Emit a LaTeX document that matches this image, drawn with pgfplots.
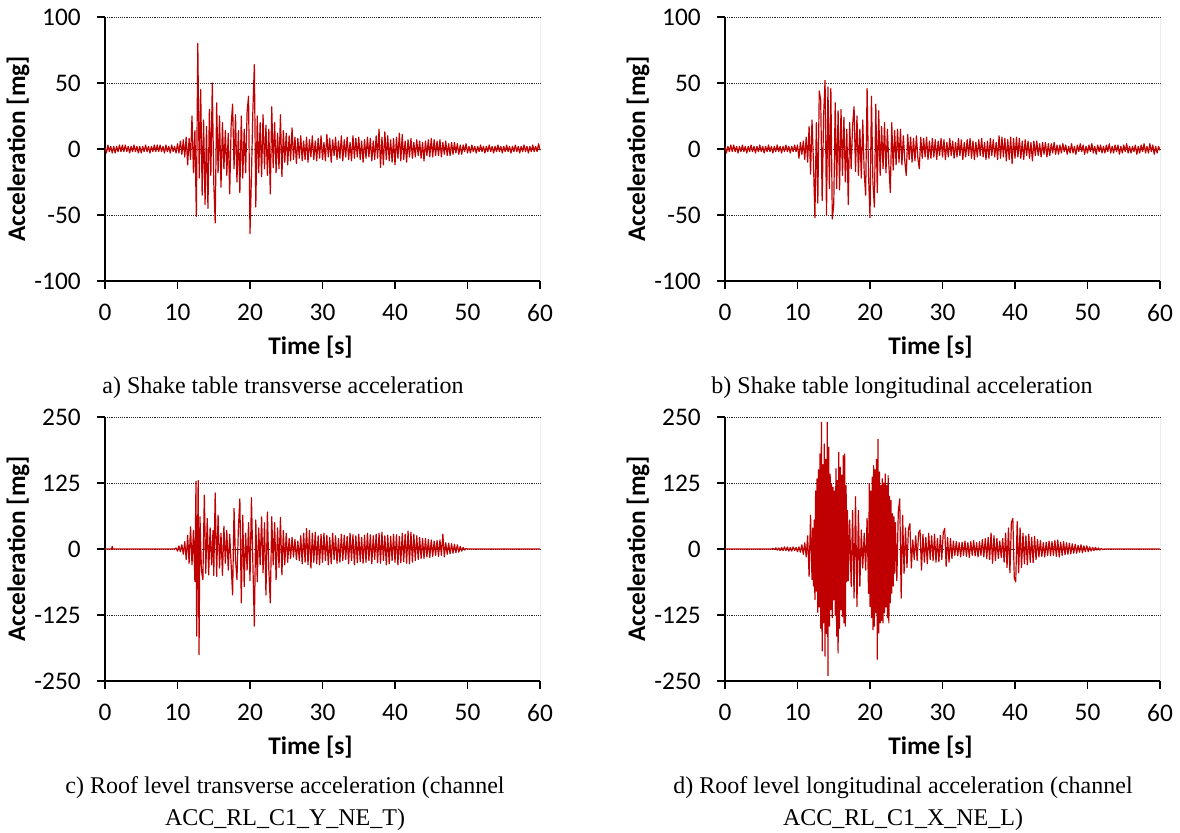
\documentclass[border=0pt]{standalone}
\usepackage{fontspec}
\setmainfont{Liberation Serif}
\newfontfamily\calibri{Carlito}
\usepackage{pgfplots}
\pgfplotsset{compat=1.18}
\definecolor{sig}{RGB}{192,0,0}

\pgfplotsset{
  accax/.style={
    scale only axis, width=326.25pt, height=198pt, anchor=south west,
    xmin=0, xmax=60, xtick={0,10,...,60},
    axis x line*=bottom, axis y line*=left,
    axis line style={-, black, line width=0.9pt},
    tick style={black, line width=0.9pt},
    tick align=outside, major tick length=6pt,
    ymajorgrids, grid style={densely dotted, black!85, line width=0.5pt},
    /pgf/number format/assume math mode=true,
    ticklabel style={font=\calibri\fontsize{19}{19}\selectfont},
    xticklabel style={anchor=north, inner sep=0pt, yshift=-11pt},
    yticklabel style={anchor=east, inner sep=0pt, xshift=-12pt},
    xlabel={Time [s]}, ylabel={Acceleration [mg]},
    every axis x label/.style={at={(rel axis cs:0.5,0)}, anchor=center,
      yshift=-49.5pt, xshift=-9pt, font=\calibri\bfseries\fontsize{19}{19}\selectfont},
    every axis y label/.style={at={(rel axis cs:0,0.5)}, rotate=90, anchor=center,
      yshift=65.25pt, font=\calibri\bfseries\fontsize{19}{19}\selectfont},
  },
  sigline/.style={sig, line width=0.9pt, line join=round},
}

\begin{document}
\begin{tikzpicture}
\useasboundingbox (0,0) rectangle (885pt,-624pt);

% a) shake table transverse
\begin{axis}[accax, at={(78.75pt,-210.75pt)}, ymin=-100, ymax=100, ytick={-100,-50,0,50,100}]
\draw[black!55, line width=0.6pt] (rel axis cs:1,0) -- (rel axis cs:1,1);
\addplot[sigline] coordinates {
(0,1)(0.2,-3)(0.4,3)(0.6,-2)(0.8,2)
(1,-3)(1.2,2)(1.4,-3)(1.6,2)(1.8,-2)
(2,3)(2.2,-2)(2.4,3)(2.6,-2)(2.8,3)
(3,-2)(3.2,2)(3.4,-3)(3.6,2)(3.8,-2)
(4,3)(4.2,-2)(4.4,2)(4.6,-3)(4.8,2)
(5,-3)(5.2,2)(5.4,-2)(5.6,3)(5.8,-2)
(6,2)(6.2,-3)(6.4,2)(6.6,-2)(6.8,3)
(7,-2)(7.2,3)(7.4,-2)(7.6,3)(7.8,-2)
(8,2)(8.2,-3)(8.4,3)(8.6,-2)(8.8,2)
(9,-3)(9.2,3)(9.4,-2)(9.6,2)(9.8,-3)
(10,4)(10.2,-3)(10.4,6)(10.6,-4)(10.8,7)
(11,-6)(11.2,9)(11.4,-12)(11.6,8)(11.8,-8)
(12,25)(12.2,-18)(12.4,14)(12.6,-51)(12.8,80)
(13,-22)(13.2,45)(13.4,-35)(13.6,22)(13.8,-42)
(14,17)(14.2,-45)(14.4,30)(14.6,-20)(14.8,50)
(15,-25)(15.2,-56)(15.4,35)(15.6,-18)(15.8,25)
(16,-29)(16.2,20)(16.4,-15)(16.6,14)(16.8,-20)
(17,12)(17.2,-34)(17.4,18)(17.6,34)(17.8,-15)
(18,26)(18.2,-25)(18.4,14)(18.6,-33)(18.8,25)
(19,-22)(19.2,15)(19.4,-18)(19.6,28)(19.8,40)
(20,-64)(20.2,-20)(20.4,30)(20.6,64)(20.8,-44)
(21,25)(21.2,-18)(21.4,20)(21.6,-21)(21.8,26)
(22,-15)(22.2,18)(22.4,-20)(22.6,15)(22.8,-34)
(23,32)(23.2,-14)(23.4,20)(23.6,-18)(23.8,12)
(24,-15)(24.2,26)(24.4,-21)(24.6,14)(24.8,-10)
(25,12)(25.2,-12)(25.4,10)(25.6,-9)(25.8,16)
(26,-8)(26.2,9)(26.4,-11)(26.6,8)(26.8,-7)
(27,10)(27.2,-9)(27.4,6)(27.6,-8)(27.8,9)
(28,-10)(28.2,7)(28.4,-6)(28.6,10)(28.8,-8)
(29,6)(29.2,-9)(29.4,8)(29.6,-7)(29.8,10)
(30,-8)(30.2,5)(30.4,-9)(30.6,11)(30.8,-6)
(31,8)(31.2,-10)(31.4,7)(31.6,-5)(31.8,9)
(32,-8)(32.2,6)(32.4,-7)(32.6,10)(32.8,-9)
(33,7)(33.2,-6)(33.4,9)(33.6,-8)(33.8,5)
(34,-9)(34.2,10)(34.4,-7)(34.6,8)(34.8,-6)
(35,9)(35.2,-8)(35.4,6)(35.6,-10)(35.8,7)
(36,-7)(36.2,9)(36.4,-6)(36.6,8)(36.8,-9)
(37,6)(37.2,-8)(37.4,10)(37.6,-7)(37.8,15)
(38,-14)(38.2,9)(38.4,-12)(38.6,13)(38.8,-8)
(39,10)(39.2,-9)(39.4,7)(39.6,-10)(39.8,8)
(40,-12)(40.2,9)(40.4,-7)(40.6,12)(40.8,-9)
(41,11)(41.2,-8)(41.4,6)(41.6,-10)(41.8,7)
(42,-6)(42.2,8)(42.4,-7)(42.6,5)(42.8,-6)
(43,7)(43.2,-5)(43.4,6)(43.6,-7)(43.8,5)
(44,-9)(44.2,6)(44.4,-5)(44.6,7)(44.8,-6)
(45,8)(45.2,-6)(45.4,7)(45.6,-5)(45.8,6)
(46,-5)(46.2,7)(46.4,-6)(46.6,5)(46.8,-4)
(47,6)(47.2,-5)(47.4,4)(47.6,-5)(47.8,5)
(48,-4)(48.2,5)(48.4,-3)(48.6,4)(48.8,-4)
(49,3)(49.2,-4)(49.4,3)(49.6,-2)(49.8,4)
(50,-3)(50.2,2)(50.4,-3)(50.6,3)(50.8,-2)
(51,2)(51.2,-3)(51.4,2)(51.6,-2)(51.8,3)
(52,-2)(52.2,2)(52.4,-3)(52.6,2)(52.8,-2)
(53,3)(53.2,-2)(53.4,2)(53.6,-3)(53.8,2)
(54,-2)(54.2,3)(54.4,-2)(54.6,2)(54.8,-3)
(55,2)(55.2,-2)(55.4,3)(55.6,-2)(55.8,2)
(56,-3)(56.2,2)(56.4,-2)(56.6,3)(56.8,-2)
(57,2)(57.2,-3)(57.4,2)(57.6,-2)(57.8,3)
(58,-2)(58.2,2)(58.4,-3)(58.6,2)(58.8,-2)
(59,3)(59.2,-2)(59.4,2)(59.6,-2)(59.8,4)
(60,-1)
};
\end{axis}

% b) shake table longitudinal
\begin{axis}[accax, at={(543.75pt,-210.75pt)}, ymin=-100, ymax=100, ytick={-100,-50,0,50,100}]
\draw[black!55, line width=0.6pt] (rel axis cs:1,0) -- (rel axis cs:1,1);
\addplot[sigline] coordinates {
(0,2)(0.2,-3)(0.4,2)(0.6,-2)(0.8,3)
(1,-2)(1.2,3)(1.4,-2)(1.6,2)(1.8,-3)
(2,2)(2.2,-2)(2.4,3)(2.6,-2)(2.8,2)
(3,-3)(3.2,2)(3.4,-2)(3.6,3)(3.8,-2)
(4,2)(4.2,-3)(4.4,2)(4.6,-2)(4.8,3)
(5,-2)(5.2,2)(5.4,-3)(5.6,2)(5.8,-2)
(6,3)(6.2,-2)(6.4,2)(6.6,-3)(6.8,2)
(7,-2)(7.2,3)(7.4,-2)(7.6,2)(7.8,-3)
(8,2)(8.2,-2)(8.4,3)(8.6,-2)(8.8,2)
(9,-3)(9.2,2)(9.4,-2)(9.6,3)(9.8,-2)
(10,3)(10.2,-7)(10.4,5)(10.6,-4)(10.8,6)
(11,-8)(11.2,9)(11.4,-10)(11.6,17)(11.8,-19)
(12,22)(12.2,-10)(12.4,-52)(12.6,20)(12.8,-41)
(13,44)(13.2,37)(13.4,-39)(13.6,25)(13.8,52)
(14,-50)(14.2,47)(14.4,-30)(14.6,46)(14.8,-53)
(15,-42)(15.2,35)(15.4,-30)(15.6,29)(15.8,-31)
(16,30)(16.2,-20)(16.4,24)(16.6,-25)(16.8,15)
(17,-42)(17.2,20)(17.4,-15)(17.6,18)(17.8,32)
(18,-17)(18.2,25)(18.4,-20)(18.6,15)(18.8,-22)
(19,22)(19.2,-18)(19.4,-35)(19.6,46)(19.8,-20)
(20,-52)(20.2,40)(20.4,-25)(20.6,-44)(20.8,34)
(21,-33)(21.2,29)(21.4,-20)(21.6,17)(21.8,-15)
(22,20)(22.2,-18)(22.4,15)(22.6,-12)(22.8,-33)
(23,20)(23.2,-16)(23.4,14)(23.6,-12)(23.8,15)
(24,-10)(24.2,15)(24.4,-12)(24.6,10)(24.8,-9)
(25,-20)(25.2,11)(25.4,-8)(25.6,9)(25.8,-10)
(26,8)(26.2,-9)(26.4,10)(26.6,-7)(26.8,-15)
(27,9)(27.2,-7)(27.4,8)(27.6,-6)(27.8,9)
(28,-8)(28.2,6)(28.4,-7)(28.6,8)(28.8,-6)
(29,7)(29.2,-8)(29.4,6)(29.6,-5)(29.8,8)
(30,-6)(30.2,7)(30.4,-8)(30.6,5)(30.8,-6)
(31,8)(31.2,-5)(31.4,6)(31.6,-7)(31.8,5)
(32,-6)(32.2,8)(32.4,-5)(32.6,7)(32.8,-8)
(33,5)(33.2,-6)(33.4,7)(33.6,-5)(33.8,8)
(34,-7)(34.2,6)(34.4,-8)(34.6,5)(34.8,-6)
(35,7)(35.2,-5)(35.4,8)(35.6,-6)(35.8,5)
(36,-8)(36.2,6)(36.4,-7)(36.6,8)(36.8,-5)
(37,7)(37.2,-6)(37.4,5)(37.6,-8)(37.8,10)
(38,-7)(38.2,9)(38.4,-6)(38.6,8)(38.8,-9)
(39,7)(39.2,-8)(39.4,9)(39.6,-11)(39.8,8)
(40,-7)(40.2,9)(40.4,-6)(40.6,8)(40.8,-7)
(41,6)(41.2,-8)(41.4,7)(41.6,-5)(41.8,6)
(42,-7)(42.2,5)(42.4,-9)(42.6,6)(42.8,-5)
(43,6)(43.2,-5)(43.4,4)(43.6,-6)(43.8,5)
(44,-4)(44.2,5)(44.4,-6)(44.6,4)(44.8,-5)
(45,4)(45.2,-3)(45.4,5)(45.6,-4)(45.8,3)
(46,-4)(46.2,3)(46.4,-3)(46.6,4)(46.8,-2)
(47,3)(47.2,-4)(47.4,2)(47.6,-3)(47.8,4)
(48,-3)(48.2,2)(48.4,-4)(48.6,3)(48.8,-2)
(49,4)(49.2,-2)(49.4,3)(49.6,-4)(49.8,2)
(50,-3)(50.2,3)(50.4,-2)(50.6,4)(50.8,-3)
(51,2)(51.2,-4)(51.4,3)(51.6,-2)(51.8,3)
(52,-3)(52.2,2)(52.4,-3)(52.6,3)(52.8,-2)
(53,4)(53.2,-3)(53.4,2)(53.6,-3)(53.8,3)
(54,-2)(54.2,3)(54.4,-4)(54.6,2)(54.8,-3)
(55,3)(55.2,-2)(55.4,4)(55.6,-3)(55.8,2)
(56,-3)(56.2,2)(56.4,-2)(56.6,3)(56.8,-4)
(57,2)(57.2,-3)(57.4,3)(57.6,-2)(57.8,4)
(58,-3)(58.2,2)(58.4,-3)(58.6,4)(58.8,-2)
(59,3)(59.2,-4)(59.4,2)(59.6,-3)(59.8,2)
(60,-1)
};
\end{axis}

% c) roof level transverse
\begin{axis}[accax, at={(78.75pt,-510.75pt)}, ymin=-250, ymax=250, ytick={-250,-125,0,125,250}]
\draw[black!55, line width=0.6pt] (rel axis cs:1,0) -- (rel axis cs:1,1);
\addplot[sigline] coordinates {
(0,0)(0.9,0)(1,5)(1.1,0)(9.6,0)(9.8,2)
(10,-4)(10.2,6)(10.4,-5)(10.6,8)(10.8,-10)
(11,14)(11.2,-20)(11.4,26)(11.6,-27)(11.8,42)
(12,-30)(12.2,35)(12.4,-62)(12.55,128)(12.65,-165)(12.85,130)(12.97,-200)
(13.1,61)(13.3,-40)(13.5,-58)(13.7,102)(13.9,-46)
(14.1,58)(14.3,-49)(14.5,40)(14.7,-30)(14.9,35)
(15,-50)(15.2,106)(15.4,-52)(15.6,64)(15.8,-36)
(16,30)(16.2,-50)(16.4,43)(16.6,-27)(16.8,35)
(17,-40)(17.2,28)(17.4,-30)(17.6,-87)(17.8,77)
(18,-20)(18.2,-58)(18.4,40)(18.6,95)(18.8,-102)
(19,64)(19.2,-71)(19.4,30)(19.6,-40)(19.8,50)
(20,-60)(20.2,97)(20.4,-30)(20.6,-146)(20.8,55)
(21,-62)(21.2,40)(21.4,-30)(21.6,61)(21.8,-45)
(22,50)(22.2,-87)(22.4,70)(22.6,-40)(22.8,-102)
(23,61)(23.2,-30)(23.4,50)(23.6,-58)(23.8,40)
(24,-35)(24.2,60)(24.4,-49)(24.6,35)(24.8,-30)
(25,30)(25.2,-25)(25.4,20)(25.6,-18)(25.8,22)
(26,-15)(26.2,18)(26.4,-20)(26.6,15)(26.8,-22)
(27,25)(27.2,-28)(27.4,30)(27.6,-25)(27.8,39)
(28,-30)(28.2,35)(28.4,-36)(28.6,30)(28.8,-25)
(29,32)(29.2,-28)(29.4,25)(29.6,-30)(29.8,28)
(30,-25)(30.2,30)(30.4,-22)(30.6,26)(30.8,-30)
(31,22)(31.2,-28)(31.4,30)(31.6,-20)(31.8,25)
(32,-27)(32.2,20)(32.4,-25)(32.6,28)(32.8,-22)
(33,26)(33.2,-20)(33.4,24)(33.6,-28)(33.8,30)
(34,-22)(34.2,27)(34.4,-30)(34.6,25)(34.8,-26)
(35,28)(35.2,-24)(35.4,22)(35.6,-27)(35.8,26)
(36,-25)(36.2,30)(36.4,-22)(36.6,27)(36.8,-28)
(37,25)(37.2,-20)(37.4,28)(37.6,-26)(37.8,30)
(38,-27)(38.2,32)(38.4,-22)(38.6,25)(38.8,-30)
(39,26)(39.2,-28)(39.4,24)(39.6,-22)(39.8,28)
(40,-25)(40.2,27)(40.4,-30)(40.6,24)(40.8,-26)
(41,30)(41.2,-24)(41.4,28)(41.6,-27)(41.8,34)
(42,-28)(42.2,32)(42.4,-25)(42.6,28)(42.8,-22)
(43,25)(43.2,-20)(43.4,22)(43.6,-18)(43.8,20)
(44,-18)(44.2,20)(44.4,-15)(44.6,18)(44.8,-16)
(45,17)(45.2,-14)(45.4,15)(45.6,-12)(45.8,16)
(46,-14)(46.2,17)(46.4,-12)(46.6,28)(46.8,-15)
(47,12)(47.2,-10)(47.4,11)(47.6,-9)(47.8,10)
(48,-8)(48.2,9)(48.4,-7)(48.6,8)(48.8,-6)
(49,5)(49.2,-4)(49.4,3)(49.6,-2)(49.8,1)
(50,0)(60,0)
};
\end{axis}

% d) roof level longitudinal
\begin{axis}[accax, at={(543.75pt,-510.75pt)}, ymin=-250, ymax=250, ytick={-250,-125,0,125,250}]
\draw[black!55, line width=0.6pt] (rel axis cs:1,0) -- (rel axis cs:1,1);
\addplot[sigline] coordinates {
(0,0)(6.4,0)(6.6,1)(6.8,-1)(7,2)(7.2,-2)(7.4,2)(7.6,-3)(7.8,3)
(8,-3)(8.2,4)(8.4,-3)(8.6,4)(8.8,-4)
(9,3)(9.2,-4)(9.4,4)(9.6,-3)(9.8,3)
(10,-5)(10.2,4)(10.4,-6)(10.6,8)(10.8,-10)
(11,12)(11.2,-15)(11.4,25)(11.6,-52)(11.8,64)
(12,-58)(12.1,40)(12.2,-70)(12.3,55)(12.4,-96)(12.5,110)(12.6,-80)(12.7,133)(12.8,-120)(12.9,150)
(13,-110)(13.1,180)(13.2,-150)(13.3,240)(13.4,-193)(13.5,160)(13.6,-140)(13.7,199)(13.8,-203)(13.9,170)
(14,-160)(14.1,240)(14.2,-240)(14.3,193)(14.4,-146)(14.5,142)(14.6,-115)(14.7,124)(14.8,-130)(14.9,117)
(15,-96)(15.1,110)(15.2,-125)(15.3,152)(15.4,-165)(15.5,130)(15.6,-197)(15.7,183)(15.8,-150)(15.9,155)
(16,-115)(16.1,140)(16.2,-128)(16.3,177)(16.4,-140)(16.5,180)(16.6,-146)(16.7,120)(16.8,-62)(16.9,73)
(17,-60)(17.2,55)(17.4,-71)(17.6,73)(17.8,-93)
(18,99)(18.2,-109)(18.4,73)(18.6,-71)(18.8,36)
(19,-36)(19.2,30)(19.4,-40)(19.6,58)(19.8,-84)(19.9,124)
(20,-109)(20.1,110)(20.2,-130)(20.3,136)(20.4,-153)(20.5,158)(20.6,-146)(20.7,150)(20.8,-120)(20.9,170)
(21,-209)(21.1,208)(21.2,-159)(21.3,146)(21.4,-140)(21.5,120)(21.6,-135)(21.7,133)(21.8,-140)(21.9,125)
(22,-121)(22.1,142)(22.2,-110)(22.3,120)(22.4,-130)(22.5,139)(22.6,-140)(22.7,100)(22.8,-102)(22.9,92)
(23,-84)(23.1,67)(23.2,-70)(23.3,61)(23.4,-46)(23.5,50)(23.7,-60)(23.9,70)
(24.1,95)(24.3,-93)(24.5,64)(24.7,-46)(24.9,40)
(25.1,-35)(25.3,38)(25.5,48)(25.7,-36)(25.9,17)
(26.1,-20)(26.3,25)(26.5,-22)(26.7,30)(26.9,36)
(27.1,-40)(27.3,28)(27.5,-25)(27.7,22)(27.9,-28)
(28.1,30)(28.3,-20)(28.5,25)(28.7,-22)(28.9,28)
(29.1,-25)(29.3,20)(29.5,-24)(29.7,26)(29.9,-20)
(30.1,30)(30.3,39)(30.5,-33)(30.7,22)(30.9,-25)
(31.1,20)(31.3,-18)(31.5,15)(31.7,-12)(31.9,14)
(32.1,-13)(32.3,12)(32.5,-15)(32.7,13)(32.9,-12)
(33.1,15)(33.3,-14)(33.5,12)(33.7,-16)(33.9,14)
(34.1,-12)(34.3,16)(34.5,-13)(34.7,12)(34.9,-15)
(35.1,14)(35.3,-12)(35.5,18)(35.7,-15)(35.9,20)
(36.1,-18)(36.3,22)(36.5,-20)(36.7,30)(36.9,-27)
(37.1,25)(37.3,-22)(37.5,20)(37.7,-18)(37.9,15)
(38.1,-16)(38.3,20)(38.5,-25)(38.7,30)(38.9,-35)
(39.1,40)(39.3,-45)(39.5,50)(39.7,58)(39.9,-55)
(40.1,-62)(40.3,52)(40.5,-45)(40.7,40)(40.9,-35)
(41.1,30)(41.3,-28)(41.5,25)(41.7,-30)(41.9,28)
(42.1,-25)(42.3,22)(42.5,-26)(42.7,24)(42.9,-20)
(43.1,18)(43.3,-15)(43.5,16)(43.7,-14)(43.9,12)
(44.1,-15)(44.3,13)(44.5,-12)(44.7,15)(44.9,-13)
(45.1,14)(45.3,-12)(45.5,16)(45.7,-14)(45.9,17)
(46.1,-15)(46.3,13)(46.5,-12)(46.7,14)(46.9,-11)
(47.1,12)(47.3,-10)(47.5,11)(47.7,-9)(47.9,10)
(48.1,-8)(48.3,9)(48.5,-8)(48.7,7)(48.9,-6)
(49.1,8)(49.3,-7)(49.5,6)(49.7,-5)(49.9,6)
(50.1,-5)(50.3,4)(50.5,-4)(50.7,3)(50.9,-3)
(51.1,3)(51.3,-2)(51.5,2)(51.7,-2)(51.9,1)
(52.1,-1)(52.3,0)(60,0)
};
\end{axis}

\begin{scope}[every node/.style={font=\fontsize{18}{24}\selectfont, align=center, inner sep=0pt}]
\node at (212.25pt,-291pt) {a) Shake table transverse acceleration};
\node at (676.5pt,-291pt) {b) Shake table longitudinal acceleration};
\node at (213.75pt,-603pt) {c) Roof level transverse acceleration (channel\\ACC\_RL\_C1\_Y\_NE\_T)};
\node at (677.25pt,-603pt) {d) Roof level longitudinal acceleration (channel\\ACC\_RL\_C1\_X\_NE\_L)};
\end{scope}
\end{tikzpicture}
\end{document}
